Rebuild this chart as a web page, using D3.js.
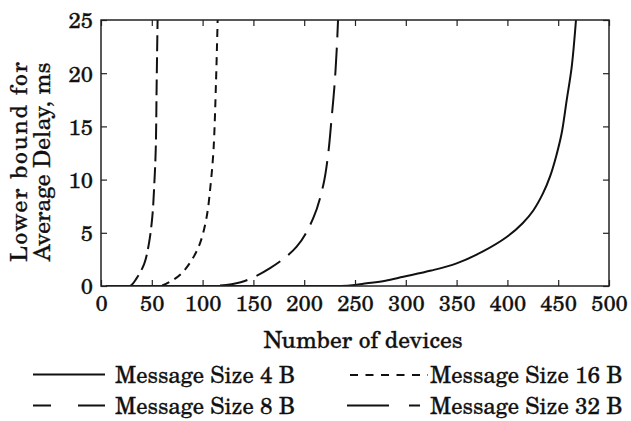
<!DOCTYPE html>
<html><head><meta charset="utf-8">
<script src="https://cdn.jsdelivr.net/npm/d3@7/dist/d3.min.js"></script>
<style>body{margin:0;background:#fff}svg{display:block}text{stroke:#111;stroke-width:0.3px}</style>
</head><body>
<svg id="c" width="631" height="421"></svg>
<script>
// ---- data ----
const xTicks = [0,50,100,150,200,250,300,350,400,450,500];
const yTicks = [0,5,10,15,20,25];
const s4x  = [5,50,100,150,200,230,245,261.5,280,297.6,325,350,375,399.3,415,425.5,435,442,448,453.4,458.4,463.3,467.5];
const s4y  = [0,0,0,0,0,0,0.05,0.25,0.5,0.87,1.45,2.13,3.2,4.6,5.9,7.1,8.7,10.3,12.2,14.35,17.5,20.6,25];
const s8x  = [5,15,28.5,35,42.6,47.2,50.5,52.5,53.9,54.8,55.7];
const s8y  = [0,0,0,0.72,2.1,4.0,6.5,9.65,12.9,19.2,25];
const s16x = [5,40,58,68,79.4,89.3,97.4,104,108,110.8,113.2,114.8];
const s16y = [0,0,0,0.4,1.2,2.44,4.0,6.5,9.65,12.9,19.2,25];
const s32x = [5,60,110,137.5,166,192.6,209,218.8,223.7,227,229.7,232,233.3];
const s32y = [0,0,0,0.35,1.66,3.7,6.4,9.5,12.5,15.8,18.7,22.2,25];
const seriesNames = ["Message Size 4 B","Message Size 8 B","Message Size 16 B","Message Size 32 B"];

const series = [
  {name:seriesNames[0], x:s4x,  y:s4y,  dash:null},
  {name:seriesNames[1], x:s8x,  y:s8y,  dash:"16,6"},
  {name:seriesNames[2], x:s16x, y:s16y, dash:"8,6"},
  {name:seriesNames[3], x:s32x, y:s32y, dash:"28,10"}
];

const svg = d3.select("#c");
const L=101, R=609, T=20, B=286;
const x = d3.scaleLinear().domain([0,500]).range([L,R]);
const y = d3.scaleLinear().domain([0,25]).range([B,T]);
const font = "'TeX Gyre Schola', 'Century Schoolbook L', serif";
const ink = "#222";

svg.append("defs").append("clipPath").attr("id","clip")
  .append("rect").attr("x",L).attr("y",T-1).attr("width",R-L).attr("height",B-T+1);

// curves
const line = d3.line().x(d=>x(d[0])).y(d=>y(d[1])).curve(d3.curveCatmullRom.alpha(0.5));
const g = svg.append("g").attr("clip-path","url(#clip)");
series.forEach(s=>{
  const pts = s.x.map((v,i)=>[v,s.y[i]]);
  g.append("path").attr("d",line(pts)).attr("fill","none")
   .attr("stroke","#111").attr("stroke-width",2)
   .attr("stroke-dasharray",s.dash);
});

// axes with inward ticks
const tl = 6;
const axB = svg.append("g").attr("transform",`translate(0,${B})`)
  .call(d3.axisBottom(x).tickValues(xTicks).tickSizeInner(-tl).tickSizeOuter(0));
const axT = svg.append("g").attr("transform",`translate(0,${T})`)
  .call(d3.axisTop(x).tickValues(xTicks).tickSizeInner(-tl).tickSizeOuter(0).tickFormat(""));
const axL = svg.append("g").attr("transform",`translate(${L},0)`)
  .call(d3.axisLeft(y).tickValues(yTicks).tickSizeInner(-tl).tickSizeOuter(0).tickPadding(8));
const axR = svg.append("g").attr("transform",`translate(${R},0)`)
  .call(d3.axisRight(y).tickValues(yTicks).tickSizeInner(-tl).tickSizeOuter(0).tickFormat(""));
[axB,axT,axL,axR].forEach(a=>{
  a.select(".domain").remove();
  a.selectAll("line").attr("stroke",ink).attr("stroke-width",1.2);
  a.selectAll("text").attr("font-family",font).attr("font-size",22).attr("fill","#111");
});
axB.selectAll("text").attr("y",25).attr("dy",0);
axL.selectAll("text").attr("dy","0.36em");

svg.append("rect").attr("x",L).attr("y",T).attr("width",R-L).attr("height",B-T)
  .attr("fill","none").attr("stroke",ink).attr("stroke-width",1.5);

// axis labels
svg.append("text").attr("x",(L+R)/2 + 8).attr("y",348).attr("text-anchor","middle")
  .attr("font-family",font).attr("font-size",23.5).attr("fill","#111").text("Number of devices");
const yl = svg.append("g").attr("transform","translate(0,162) rotate(-90)");
yl.append("text").attr("x",0).attr("y",27).attr("text-anchor","middle")
  .attr("font-family",font).attr("font-size",23.5).attr("fill","#111")
  .attr("textLength",200).attr("lengthAdjust","spacing").text("Lower bound for");
yl.append("text").attr("x",0).attr("y",50).attr("text-anchor","middle")
  .attr("font-family",font).attr("font-size",23.5).attr("fill","#111").text("Average Delay, ms");

// legend
const leg = [
  {i:0, x1:33, x2:105, ly:374.5, tx:115, ty:383, dash:null},
  {i:1, x1:33, x2:105, ly:405.5, tx:115, ty:414, dash:"18,27,27"},
  {i:2, x1:350, x2:428, ly:375, tx:430, ty:383, dash:"8,7.5"},
  {i:3, x1:347, x2:420, ly:405.5, tx:430, ty:414, dash:"42,20,12"}
];
leg.forEach(d=>{
  svg.append("line").attr("x1",d.x1).attr("x2",d.x2).attr("y1",d.ly).attr("y2",d.ly)
    .attr("stroke","#111").attr("stroke-width",1.8).attr("stroke-dasharray",d.dash);
  svg.append("text").attr("x",d.tx).attr("y",d.ty).attr("font-family",font)
    .attr("font-size",22.5).attr("fill","#111").text(seriesNames[d.i]);
});
</script>
</body></html>
